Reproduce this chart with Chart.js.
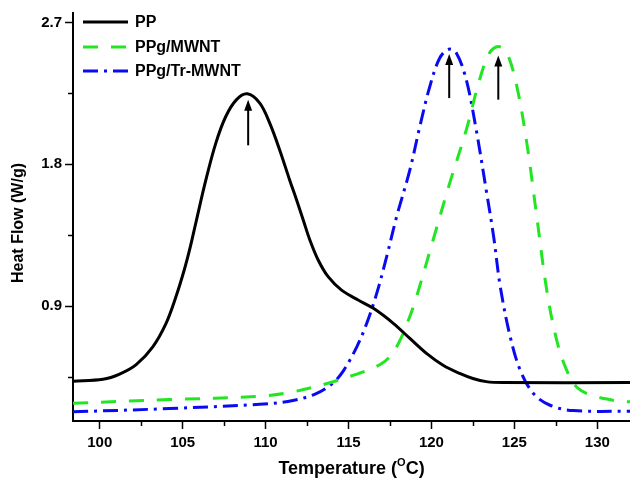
<!DOCTYPE html>
<html>
<head>
<meta charset="utf-8">
<script src="https://cdn.jsdelivr.net/npm/chart.js@4/dist/chart.umd.min.js"></script>
<style>
    html, body { margin: 0; padding: 0; background: #fff; }
    #wrap { width: 630px; height: 478px; }
</style>
</head>
<body>
<div id="wrap"><canvas id="dscChart" width="630" height="478"></canvas></div>
<script>
const ppTemp = [98.39, 100.2, 101.2, 102.2, 103.2, 104.0, 104.6, 105.1, 105.45, 105.8, 106.4, 107.0, 107.6, 108.25, 108.9, 109.65, 110.25, 110.85, 111.45, 111.87, 112.27, 112.67, 113.17, 113.77, 114.58, 115.58, 116.5, 117.7, 118.7, 119.7, 120.7, 121.7, 122.5, 123.3, 124.3, 131.97];
const ppFlow = [0.423, 0.435, 0.468, 0.528, 0.641, 0.79, 0.96, 1.13, 1.27, 1.43, 1.70, 1.934, 2.103, 2.21, 2.247, 2.188, 2.061, 1.891, 1.70, 1.573, 1.446, 1.319, 1.192, 1.086, 1.001, 0.938, 0.885, 0.79, 0.694, 0.599, 0.524, 0.472, 0.44, 0.42, 0.414, 0.414];

const mwntTemp = [98.39, 104.2, 109.65, 111.65, 113.7, 115.3, 116.2, 117.0, 117.5, 118.0, 118.5, 119.0, 120.1, 121.1, 122.1, 122.9, 123.5, 124.03, 124.55, 125.15, 125.75, 126.35, 126.95, 127.55, 128.15, 128.75, 129.6, 131.2, 131.97];
const mwntFlow = [0.283, 0.306, 0.327, 0.355, 0.408, 0.461, 0.495, 0.535, 0.58, 0.66, 0.78, 0.925, 1.319, 1.68, 2.018, 2.336, 2.506, 2.548, 2.506, 2.293, 1.934, 1.467, 1.001, 0.683, 0.493, 0.386, 0.335, 0.297, 0.292];

const trTemp = [98.39, 104.2, 109.65, 111.65, 113.05, 114.05, 114.7, 115.5, 116.1, 116.7, 117.3, 117.9, 118.7, 119.3, 119.9, 120.5, 121.05, 121.5, 122.1, 122.7, 123.3, 123.75, 124.15, 124.75, 125.35, 126.15, 127.15, 128.55, 131.97];
const trFlow = [0.228, 0.249, 0.276, 0.30, 0.344, 0.41, 0.49, 0.641, 0.79, 0.98, 1.213, 1.467, 1.764, 2.04, 2.293, 2.474, 2.53, 2.506, 2.336, 2.018, 1.637, 1.34, 1.022, 0.704, 0.493, 0.344, 0.27, 0.236, 0.232];

const seriesNames = ['PP', 'PPg/MWNT', 'PPg/Tr-MWNT'];

const xTickValues = [100, 102.5, 105, 107.5, 110, 112.5, 115, 117.5, 120, 122.5, 125, 127.5, 130];
const xTickLabels = ['100', '', '105', '', '110', '', '115', '', '120', '', '125', '', '130'];
const yTickValues = [0.45, 0.9, 1.35, 1.8, 2.25, 2.7];
const yTickLabels = ['', '0.9', '', '1.8', '', '2.7'];

// frecce sui picchi (temperatura, da, a)
const arrowTemp = [108.95, 121.07, 124.03];
const arrowFrom = [1.92, 2.22, 2.21];
const arrowTo = [2.21, 2.50, 2.49];

const xMin = 98.39, xMax = 131.97;
const yMin = 0.17, yMax = 2.76;

const FONT = '"Liberation Sans", Arial, sans-serif';
const colors = ['#000000', '#22e622', '#0a0af2'];
const dashes = [[], [15, 13], [15, 6, 3, 6]];

const toPoints = (xs, ys) => xs.map((x, i) => ({ x: x, y: ys[i] }));

const extras = {
    id: 'extras',
    afterDraw(chart) {
        const ctx = chart.ctx;
        const xs = chart.scales.x;
        const ys = chart.scales.y;
        const area = chart.chartArea;
        ctx.save();

        // tacche minori
        ctx.strokeStyle = '#000';
        ctx.lineWidth = 1.5;
        xTickValues.forEach((v, i) => {
            if (xTickLabels[i]) return;
            const px = Math.round(xs.getPixelForValue(v)) + 0.5;
            ctx.beginPath();
            ctx.moveTo(px, area.bottom);
            ctx.lineTo(px, area.bottom + 5);
            ctx.stroke();
        });
        yTickValues.forEach((v, i) => {
            if (yTickLabels[i]) return;
            const py = Math.round(ys.getPixelForValue(v)) + 0.5;
            ctx.beginPath();
            ctx.moveTo(area.left, py);
            ctx.lineTo(area.left - 5, py);
            ctx.stroke();
        });

        // frecce
        ctx.fillStyle = '#000';
        arrowTemp.forEach((t, i) => {
            const px = xs.getPixelForValue(t);
            const y0 = ys.getPixelForValue(arrowFrom[i]);
            const y1 = ys.getPixelForValue(arrowTo[i]);
            ctx.lineWidth = 2;
            ctx.beginPath();
            ctx.moveTo(px, y0);
            ctx.lineTo(px, y1 + 8);
            ctx.stroke();
            ctx.beginPath();
            ctx.moveTo(px, y1);
            ctx.lineTo(px - 4, y1 + 11);
            ctx.lineTo(px + 4, y1 + 11);
            ctx.closePath();
            ctx.fill();
        });

        // legenda
        const legY = [22, 47, 71];
        seriesNames.forEach((name, i) => {
            ctx.strokeStyle = colors[i];
            ctx.lineWidth = 3;
            ctx.setLineDash(dashes[i]);
            ctx.beginPath();
            ctx.moveTo(83, legY[i]);
            ctx.lineTo(128, legY[i]);
            ctx.stroke();
            ctx.setLineDash([]);
            ctx.fillStyle = '#000';
            ctx.font = 'bold 16px ' + FONT;
            ctx.textAlign = 'left';
            ctx.textBaseline = 'middle';
            ctx.fillText(name, 135, legY[i] + 1);
        });

        // titolo asse y
        ctx.save();
        ctx.translate(19, (area.top + area.bottom) / 2 + 6);
        ctx.rotate(-Math.PI / 2);
        ctx.font = 'bold 16px ' + FONT;
        ctx.textAlign = 'center';
        ctx.textBaseline = 'middle';
        ctx.fillText('Heat Flow (W/g)', 0, 0);
        ctx.restore();

        // titolo asse x con apice
        const big = 'bold 18px ' + FONT;
        const small = 'bold 11px ' + FONT;
        ctx.textBaseline = 'alphabetic';
        ctx.textAlign = 'left';
        ctx.font = big;
        const a = 'Temperature (', c = 'C)';
        const wa = ctx.measureText(a).width;
        const wc = ctx.measureText(c).width;
        ctx.font = small;
        const wo = ctx.measureText('O').width;
        let x0 = (area.left + area.right) / 2 - (wa + wo + wc) / 2;
        const base = 474;
        ctx.font = big;
        ctx.fillText(a, x0, base);
        ctx.font = small;
        ctx.fillText('O', x0 + wa, base - 8);
        ctx.font = big;
        ctx.fillText(c, x0 + wa + wo, base);

        ctx.restore();
    }
};

new Chart(document.getElementById('dscChart'), {
    type: 'line',
    data: {
        datasets: [
            { label: seriesNames[0], data: toPoints(ppTemp, ppFlow), borderColor: colors[0], borderDash: dashes[0] },
            { label: seriesNames[1], data: toPoints(mwntTemp, mwntFlow), borderColor: colors[1], borderDash: dashes[1] },
            { label: seriesNames[2], data: toPoints(trTemp, trFlow), borderColor: colors[2], borderDash: dashes[2] }
        ].map(d => Object.assign(d, { borderWidth: 3, pointRadius: 0, fill: false, tension: 0.35 }))
    },
    options: {
        responsive: false,
        animation: false,
        devicePixelRatio: 1,
        layout: { padding: { top: 13, right: 0, bottom: 0, left: 0 } },
        plugins: { legend: { display: false }, tooltip: { enabled: false } },
        scales: {
            x: {
                type: 'linear',
                min: xMin,
                max: xMax,
                afterBuildTicks: s => { s.ticks = xTickValues.map(v => ({ value: v })); },
                afterFit: s => { s.height = 57; },
                grid: {
                    drawOnChartArea: false,
                    tickLength: 8,
                    tickWidth: 1.5,
                    tickColor: c => (c.tick && xTickLabels[xTickValues.indexOf(c.tick.value)]) ? '#000' : 'rgba(0,0,0,0)'
                },
                border: { display: true, color: '#000', width: 2 },
                ticks: {
                    color: '#000',
                    padding: 5,
                    maxRotation: 0,
                    autoSkip: false,
                    font: { family: FONT, size: 15, weight: 'bold' },
                    callback: v => xTickLabels[xTickValues.indexOf(v)] || ''
                }
            },
            y: {
                min: yMin,
                max: yMax,
                afterBuildTicks: s => { s.ticks = yTickValues.map(v => ({ value: v })); },
                afterFit: s => { s.width = 73; },
                grid: {
                    drawOnChartArea: false,
                    tickLength: 8,
                    tickWidth: 1.5,
                    tickColor: c => (c.tick && yTickLabels[yTickValues.indexOf(c.tick.value)]) ? '#000' : 'rgba(0,0,0,0)'
                },
                border: { display: true, color: '#000', width: 2 },
                ticks: {
                    color: '#000',
                    padding: 3,
                    autoSkip: false,
                    font: { family: FONT, size: 15, weight: 'bold' },
                    callback: v => yTickLabels[yTickValues.indexOf(v)] || ''
                }
            }
        }
    },
    plugins: [extras]
});
</script>
</body>
</html>
